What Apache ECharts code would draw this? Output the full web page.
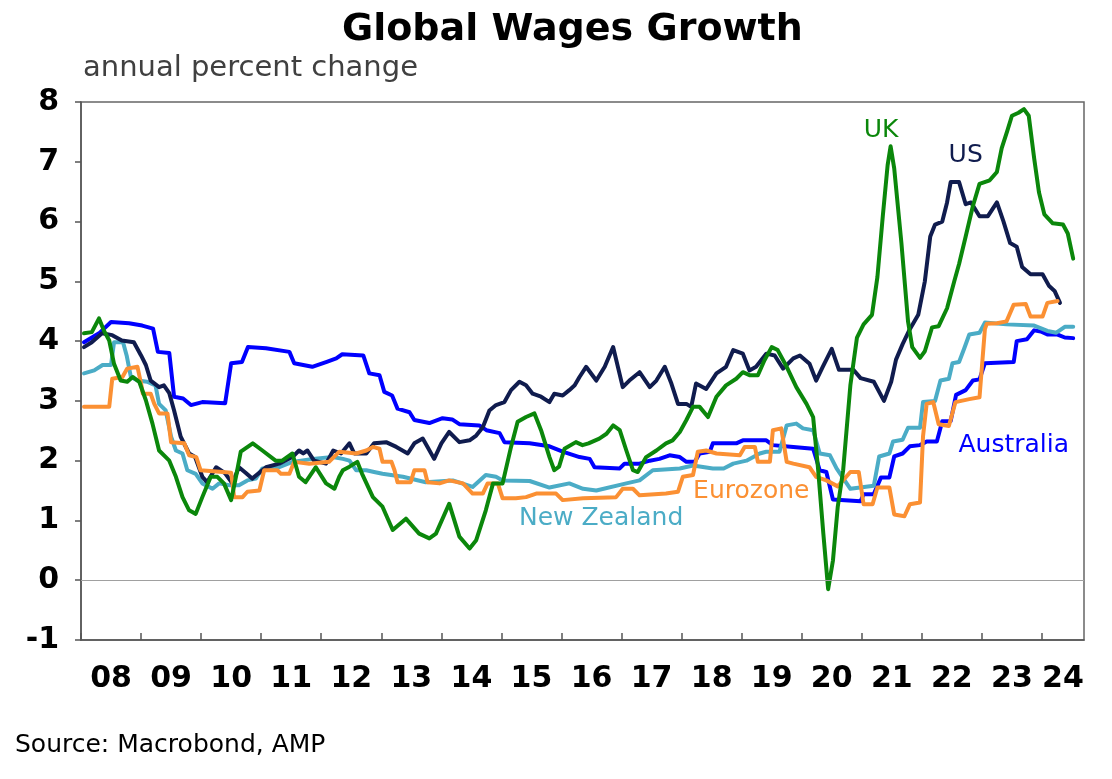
<!DOCTYPE html>
<html>
<head>
<meta charset="utf-8">
<title>Global Wages Growth</title>
<script src="https://cdn.jsdelivr.net/npm/echarts@6/dist/echarts.min.js"></script>
<style>
    html, body { margin: 0; padding: 0; background: #fff; }
    #chart { width: 1112px; height: 779px; }
</style>
</head>
<body>
<div id="chart"></div>
<script>
// ---- data: [year, annual % change] ----
const australia = [[2008.05,3.98],[2008.3,4.13],[2008.5,4.32],[2008.8,4.3],[2009.02,4.26],[2009.2,4.21],[2009.28,3.82],[2009.47,3.8],[2009.55,3.07],[2009.7,3.04],[2009.83,2.93],[2010.02,2.98],[2010.4,2.96],[2010.5,3.63],[2010.68,3.65],[2010.78,3.9],[2011.08,3.88],[2011.47,3.82],[2011.55,3.63],[2011.85,3.57],[2012.08,3.65],[2012.25,3.71],[2012.35,3.78],[2012.7,3.76],[2012.8,3.46],[2012.97,3.43],[2013.05,3.15],[2013.18,3.09],[2013.27,2.87],[2013.47,2.81],[2013.55,2.68],[2013.8,2.63],[2014.02,2.71],[2014.18,2.69],[2014.3,2.61],[2014.63,2.59],[2014.75,2.51],[2014.97,2.46],[2015.05,2.31],[2015.47,2.29],[2015.8,2.24],[2016.02,2.15],[2016.3,2.06],[2016.47,2.03],[2016.55,1.89],[2016.97,1.87],[2017.05,1.95],[2017.3,1.95],[2017.47,2.0],[2017.63,2.03],[2017.8,2.09],[2017.97,2.06],[2018.08,1.98],[2018.22,1.98],[2018.3,2.12],[2018.47,2.15],[2018.52,2.29],[2018.91,2.29],[2019.02,2.34],[2019.41,2.34],[2019.52,2.26],[2019.86,2.23],[2020.19,2.2],[2020.3,1.84],[2020.41,1.81],[2020.52,1.35],[2020.98,1.32],[2021.03,1.44],[2021.2,1.44],[2021.32,1.72],[2021.46,1.72],[2021.54,2.07],[2021.68,2.12],[2021.8,2.24],[2021.97,2.26],[2022.08,2.32],[2022.25,2.32],[2022.34,2.66],[2022.48,2.66],[2022.57,3.1],[2022.73,3.18],[2022.85,3.34],[2022.96,3.36],[2023.05,3.63],[2023.53,3.65],[2023.58,4.0],[2023.75,4.03],[2023.87,4.18],[2023.98,4.16],[2024.09,4.11],[2024.26,4.11],[2024.38,4.06],[2024.52,4.05]];

const newZealand = [[2008.05,3.46],[2008.22,3.51],[2008.36,3.6],[2008.5,3.6],[2008.55,3.98],[2008.7,3.98],[2008.76,3.76],[2008.83,3.4],[2008.94,3.34],[2009.1,3.32],[2009.24,3.26],[2009.3,2.95],[2009.41,2.84],[2009.5,2.4],[2009.58,2.17],[2009.69,2.12],[2009.77,1.84],[2009.91,1.78],[2010.02,1.62],[2010.19,1.53],[2010.3,1.62],[2010.47,1.59],[2010.63,1.59],[2010.77,1.67],[2010.91,1.7],[2011.02,1.87],[2011.3,1.89],[2011.52,1.98],[2011.86,2.03],[2012.19,2.06],[2012.36,2.03],[2012.47,2.0],[2012.58,1.84],[2012.75,1.84],[2012.88,1.81],[2013.02,1.78],[2013.36,1.73],[2013.74,1.64],[2014.19,1.67],[2014.52,1.56],[2014.74,1.76],[2014.91,1.73],[2015.02,1.67],[2015.47,1.66],[2015.8,1.55],[2016.13,1.62],[2016.36,1.53],[2016.58,1.5],[2017.08,1.62],[2017.3,1.67],[2017.52,1.84],[2017.97,1.87],[2018.19,1.92],[2018.52,1.87],[2018.7,1.87],[2018.86,1.95],[2019.08,2.0],[2019.3,2.12],[2019.41,2.15],[2019.63,2.15],[2019.75,2.59],[2019.91,2.62],[2020.02,2.54],[2020.19,2.51],[2020.3,2.12],[2020.47,2.09],[2020.58,1.87],[2020.81,1.53],[2021.2,1.58],[2021.29,2.07],[2021.46,2.12],[2021.52,2.32],[2021.68,2.35],[2021.77,2.55],[2021.97,2.55],[2022.02,2.98],[2022.22,3.0],[2022.31,3.34],[2022.45,3.37],[2022.51,3.63],[2022.62,3.65],[2022.71,3.89],[2022.79,4.11],[2022.96,4.14],[2023.05,4.31],[2023.41,4.28],[2023.87,4.26],[2024.09,4.17],[2024.24,4.14],[2024.38,4.24],[2024.52,4.24]];

const us = [[2008.05,3.9],[2008.18,3.98],[2008.35,4.13],[2008.52,4.1],[2008.68,4.01],[2008.88,3.98],[2009.0,3.76],[2009.08,3.6],[2009.16,3.34],[2009.3,3.23],[2009.38,3.26],[2009.47,3.13],[2009.55,2.84],[2009.66,2.4],[2009.8,2.12],[2009.9,2.06],[2010.02,1.73],[2010.1,1.64],[2010.25,1.89],[2010.4,1.79],[2010.52,1.62],[2010.63,1.89],[2010.75,1.79],[2010.85,1.7],[2011.08,1.89],[2011.3,1.95],[2011.52,2.06],[2011.63,2.17],[2011.7,2.12],[2011.77,2.17],[2011.88,2.0],[2012.08,1.95],[2012.2,2.17],[2012.33,2.12],[2012.47,2.29],[2012.55,2.12],[2012.75,2.12],[2012.88,2.29],[2013.08,2.31],[2013.25,2.23],[2013.44,2.12],[2013.55,2.29],[2013.69,2.37],[2013.77,2.23],[2013.88,2.03],[2014.0,2.29],[2014.13,2.48],[2014.3,2.31],[2014.47,2.34],[2014.58,2.42],[2014.69,2.56],[2014.8,2.84],[2014.91,2.93],[2015.05,2.98],[2015.16,3.18],[2015.3,3.32],[2015.41,3.26],[2015.52,3.12],[2015.66,3.07],[2015.8,2.98],[2015.88,3.12],[2016.02,3.09],[2016.13,3.18],[2016.22,3.26],[2016.3,3.4],[2016.41,3.57],[2016.58,3.34],[2016.72,3.57],[2016.86,3.9],[2017.02,3.23],[2017.13,3.34],[2017.3,3.48],[2017.47,3.23],[2017.58,3.34],[2017.72,3.57],[2017.83,3.29],[2017.94,2.95],[2018.08,2.95],[2018.16,2.9],[2018.24,3.29],[2018.41,3.2],[2018.58,3.46],[2018.74,3.57],[2018.86,3.85],[2019.02,3.79],[2019.13,3.51],[2019.24,3.57],[2019.41,3.79],[2019.55,3.76],[2019.69,3.54],[2019.86,3.71],[2019.97,3.76],[2020.13,3.62],[2020.24,3.34],[2020.35,3.57],[2020.5,3.87],[2020.62,3.52],[2020.86,3.52],[2020.98,3.38],[2021.2,3.32],[2021.37,3.0],[2021.49,3.32],[2021.57,3.69],[2021.68,3.95],[2021.8,4.2],[2021.94,4.44],[2022.05,5.0],[2022.14,5.75],[2022.22,5.95],[2022.34,6.0],[2022.42,6.32],[2022.48,6.66],[2022.62,6.66],[2022.73,6.29],[2022.82,6.32],[2022.96,6.09],[2023.1,6.09],[2023.25,6.32],[2023.36,6.0],[2023.47,5.64],[2023.58,5.58],[2023.67,5.24],[2023.81,5.12],[2024.01,5.12],[2024.12,4.92],[2024.21,4.84],[2024.3,4.64]];

const eurozone = [[2008.05,2.9],[2008.47,2.9],[2008.52,3.37],[2008.69,3.4],[2008.77,3.54],[2008.94,3.57],[2009.0,3.29],[2009.03,3.12],[2009.16,3.12],[2009.22,2.95],[2009.3,2.79],[2009.44,2.79],[2009.5,2.31],[2009.72,2.29],[2009.8,2.09],[2009.92,2.06],[2009.99,1.84],[2010.36,1.81],[2010.5,1.8],[2010.55,1.39],[2010.69,1.39],[2010.77,1.48],[2010.97,1.5],[2011.05,1.84],[2011.27,1.84],[2011.33,1.78],[2011.47,1.78],[2011.55,1.98],[2011.8,1.95],[2012.13,1.98],[2012.3,2.15],[2012.58,2.12],[2012.75,2.17],[2012.86,2.23],[2012.97,2.2],[2013.02,1.98],[2013.17,1.98],[2013.22,1.84],[2013.27,1.64],[2013.49,1.64],[2013.55,1.84],[2013.72,1.84],[2013.77,1.64],[2013.97,1.62],[2014.13,1.67],[2014.36,1.62],[2014.52,1.45],[2014.69,1.45],[2014.77,1.62],[2014.94,1.62],[2015.02,1.37],[2015.24,1.37],[2015.41,1.39],[2015.58,1.45],[2015.91,1.45],[2016.02,1.34],[2016.36,1.37],[2016.91,1.39],[2017.02,1.53],[2017.19,1.53],[2017.3,1.42],[2017.74,1.45],[2017.94,1.48],[2018.02,1.73],[2018.19,1.76],[2018.27,2.15],[2018.41,2.17],[2018.58,2.12],[2018.97,2.09],[2019.05,2.23],[2019.22,2.23],[2019.27,1.98],[2019.47,1.98],[2019.52,2.51],[2019.66,2.54],[2019.75,1.98],[2019.86,1.95],[2020.13,1.89],[2020.24,1.73],[2020.41,1.67],[2020.6,1.57],[2020.81,1.81],[2020.95,1.81],[2021.03,1.27],[2021.18,1.27],[2021.26,1.55],[2021.46,1.55],[2021.54,1.1],[2021.71,1.07],[2021.8,1.27],[2021.97,1.3],[2022.02,2.41],[2022.08,2.95],[2022.19,2.98],[2022.28,2.61],[2022.45,2.58],[2022.56,2.98],[2022.79,3.03],[2022.96,3.06],[2023.05,4.2],[2023.08,4.29],[2023.25,4.3],[2023.41,4.33],[2023.53,4.61],[2023.73,4.62],[2023.81,4.41],[2024.01,4.41],[2024.09,4.64],[2024.26,4.67]];

const uk = [[2008.05,4.13],[2008.18,4.15],[2008.3,4.38],[2008.38,4.18],[2008.47,4.01],[2008.55,3.62],[2008.66,3.34],[2008.77,3.32],[2008.86,3.4],[2008.97,3.32],[2009.08,3.01],[2009.19,2.62],[2009.3,2.17],[2009.47,2.0],[2009.58,1.73],[2009.69,1.39],[2009.8,1.17],[2009.91,1.11],[2010.02,1.39],[2010.16,1.73],[2010.27,1.73],[2010.38,1.62],[2010.5,1.34],[2010.58,1.73],[2010.66,2.15],[2010.86,2.29],[2011.02,2.17],[2011.24,2.0],[2011.35,2.0],[2011.52,2.12],[2011.63,1.73],[2011.74,1.64],[2011.91,1.89],[2012.08,1.62],[2012.22,1.53],[2012.3,1.73],[2012.36,1.84],[2012.47,1.9],[2012.6,1.98],[2012.68,1.78],[2012.86,1.39],[2013.02,1.23],[2013.19,0.84],[2013.41,1.03],[2013.63,0.78],[2013.8,0.7],[2013.91,0.78],[2014.13,1.28],[2014.3,0.73],[2014.47,0.53],[2014.58,0.67],[2014.74,1.17],[2014.86,1.62],[2015.02,1.62],[2015.16,2.23],[2015.27,2.65],[2015.41,2.73],[2015.55,2.79],[2015.66,2.51],[2015.8,2.06],[2015.88,1.84],[2015.96,1.9],[2016.05,2.2],[2016.24,2.31],[2016.35,2.26],[2016.45,2.29],[2016.63,2.37],[2016.75,2.45],[2016.86,2.59],[2016.97,2.51],[2017.08,2.17],[2017.19,1.84],[2017.27,1.81],[2017.41,2.06],[2017.58,2.17],[2017.74,2.29],[2017.85,2.34],[2017.97,2.48],[2018.08,2.68],[2018.19,2.9],[2018.3,2.9],[2018.44,2.73],[2018.58,3.07],[2018.74,3.26],[2018.91,3.37],[2019.02,3.48],[2019.13,3.43],[2019.27,3.43],[2019.38,3.68],[2019.5,3.9],[2019.6,3.85],[2019.75,3.57],[2019.91,3.23],[2020.08,2.95],[2020.19,2.73],[2020.27,1.89],[2020.36,0.78],[2020.44,-0.15],[2020.52,0.33],[2020.6,1.23],[2020.69,1.84],[2020.81,3.26],[2020.92,4.06],[2021.03,4.28],[2021.17,4.44],[2021.26,5.07],[2021.35,6.09],[2021.43,6.94],[2021.48,7.26],[2021.54,6.89],[2021.66,5.64],[2021.77,4.33],[2021.84,3.9],[2021.97,3.72],[2022.05,3.83],[2022.17,4.23],[2022.28,4.25],[2022.42,4.55],[2022.54,5.0],[2022.62,5.29],[2022.73,5.75],[2022.85,6.26],[2022.96,6.63],[2023.13,6.69],[2023.25,6.83],[2023.33,7.23],[2023.42,7.51],[2023.5,7.77],[2023.61,7.82],[2023.7,7.88],[2023.78,7.77],[2023.87,7.06],[2023.95,6.49],[2024.04,6.12],[2024.18,5.97],[2024.35,5.95],[2024.43,5.8],[2024.52,5.38]];

// ---- axis labels ----
const years = [2008,2009,2010,2011,2012,2013,2014,2015,2016,2017,2018,2019,2020,2021,2022,2023,2024];
const yearLabels = ['08','09','10','11','12','13','14','15','16','17','18','19','20','21','22','23','24'];
const xMin = 2008, xMax = 2024.7;

// series names and where their name sits (data coords)
const seriesNames = ['Australia', 'New Zealand', 'US', 'Eurozone', 'UK'];
const nameSpots = [[2023.53, 2.25], [2016.66, 1.03], [2022.73, 7.1], [2019.16, 1.48], [2021.32, 7.53]];

const Colors = {
    'Australia': '#0000ff',
    'New Zealand': '#4bacc6',
    'US': '#101c4e',
    'Eurozone': '#fb9033',
    'UK': '#0b870b'
};

const FONT = 'DejaVu Sans';

/**
 * label sits mid-year; the last (partial) year is centred on its visible part
 */
const labelValues = years.map(function(y, i) {
    return i < years.length - 1 ? y + 0.5 : (y + xMax) / 2;
});

function buildSeries(name, data, idx) {
    const s = {
        name: name,
        type: 'line',
        data: data,
        symbol: 'none',
        lineStyle: { color: Colors[name], width: 4, cap: 'round', join: 'round' },
        itemStyle: { color: Colors[name] },
        markPoint: {
            silent: true,
            symbol: 'circle',
            symbolSize: 0,
            data: [{ coord: nameSpots[idx], value: name }],
            label: {
                show: true,
                position: 'inside',
                formatter: name,
                color: Colors[name],
                fontFamily: FONT,
                fontSize: 25
            }
        }
    };
    // zero line rides on the first series
    if (idx === 0) {
        s.markLine = {
            silent: true,
            symbol: 'none',
            label: { show: false },
            lineStyle: { color: '#a0a0a0', width: 1.2, type: 'solid' },
            data: [{ yAxis: 0 }]
        };
    }
    return s;
}

const chart = echarts.init(document.getElementById('chart'), null, { renderer: 'canvas' });

const option = {
    animation: false,
    backgroundColor: '#fff',
    title: [
        {
            text: 'Global Wages Growth',
            left: 337,
            top: 6,
            textStyle: { fontFamily: FONT, fontSize: 38, fontWeight: 'bold', color: '#000' }
        },
        {
            text: 'annual percent change',
            left: 78,
            top: 49,
            textStyle: { fontFamily: FONT, fontSize: 29, fontWeight: 'normal', color: '#404040' }
        },
        {
            text: 'Source: Macrobond, AMP',
            left: 10,
            top: 728,
            textStyle: { fontFamily: FONT, fontSize: 25, fontWeight: 'normal', color: '#000' }
        }
    ],
    grid: {
        left: 81,
        right: 28,
        top: 102,
        bottom: 139,
        show: true,
        borderColor: '#666',
        borderWidth: 1.5,
        backgroundColor: 'transparent'
    },
    xAxis: {
        type: 'value',
        min: xMin,
        max: xMax,
        axisLine: { show: true, onZero: false, lineStyle: { color: '#555', width: 1.5 } },
        axisTick: {
            show: true,
            inside: true,
            length: 7,
            customValues: years,
            lineStyle: { color: '#555', width: 1.5 }
        },
        axisLabel: {
            show: true,
            customValues: labelValues,
            margin: 24,
            color: '#000',
            fontFamily: FONT,
            fontSize: 30,
            fontWeight: 'bold',
            formatter: function(v) {
                const i = labelValues.findIndex(function(p) { return Math.abs(p - v) < 0.01; });
                return i >= 0 ? yearLabels[i] : '';
            }
        },
        splitLine: { show: false }
    },
    yAxis: {
        type: 'value',
        min: -1,
        max: 8,
        interval: 1,
        axisLine: { show: true, lineStyle: { color: '#555', width: 1.5 } },
        axisTick: { show: true, inside: false, length: 6, lineStyle: { color: '#555', width: 1.5 } },
        axisLabel: {
            margin: 22,
            color: '#000',
            fontFamily: FONT,
            fontSize: 30,
            fontWeight: 'bold'
        },
        splitLine: { show: false }
    },
    series: [
        buildSeries('Australia', australia, 0),
        buildSeries('New Zealand', newZealand, 1),
        buildSeries('US', us, 2),
        buildSeries('Eurozone', eurozone, 3),
        buildSeries('UK', uk, 4)
    ]
};

chart.setOption(option);
</script>
</body>
</html>
